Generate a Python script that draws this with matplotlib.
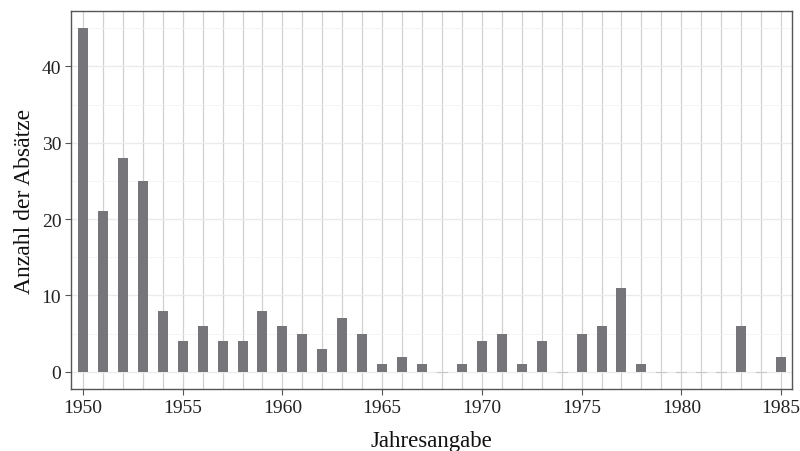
import matplotlib
matplotlib.use("Agg")
import matplotlib.pyplot as plt
import numpy as np

years = list(range(1950, 1986))
counts = [45, 21, 28, 25, 8, 4, 6, 4, 4, 8,
          6, 5, 3, 7, 5, 1, 2, 1, 0, 1,
          4, 5, 1, 4, 0, 5, 6, 11, 1, 0,
          0, 0, 0, 6, 0, 2]

plt.rcParams['font.family'] = ['Liberation Serif', 'DejaVu Serif']

fig = plt.figure(figsize=(8, 4.52), dpi=100)
ax = fig.add_axes([71 / 800, 1 - 390 / 452, 721 / 800, 378 / 452])

bar_col = '#76767a'
ax.bar(years, counts, width=0.5, color=bar_col, zorder=3)
# zero-height bars show as a thin line in the original
zero_years = [y for y, c in zip(years, counts) if c == 0]
for y in zero_years:
    ax.plot([y - 0.25, y + 0.25], [0, 0], color='#c8c8c8', lw=0.8, zorder=3)

ax.set_xlim(1949.4, 1985.55)
ax.set_ylim(-2.25, 47.25)

ax.set_xticks(range(1950, 1986, 5))
ax.set_xticks(years, minor=True)
ax.set_yticks([0, 10, 20, 30, 40])
ax.set_yticks([5, 15, 25, 35, 45], minor=True)

ax.grid(axis='x', which='both', color='#d0d0d0', lw=0.9, zorder=0)
ax.grid(axis='y', which='major', color='#ebebeb', lw=1.0, zorder=0)
ax.grid(axis='y', which='minor', color='#f2f2f2', lw=0.6, zorder=0)
ax.set_axisbelow(True)

for s in ax.spines.values():
    s.set_color('#555555')
    s.set_linewidth(1.0)

ax.tick_params(which='major', length=4, color='#555555', labelsize=14,
               labelcolor='#222222', pad=3)
ax.tick_params(which='minor', length=0)

ax.set_xlabel('Jahresangabe', fontsize=16.5, color='#111111', labelpad=10)
ax.set_ylabel('Anzahl der Absätze', fontsize=17, color='#111111', labelpad=5)

fig.savefig('out.png', dpi=100)
